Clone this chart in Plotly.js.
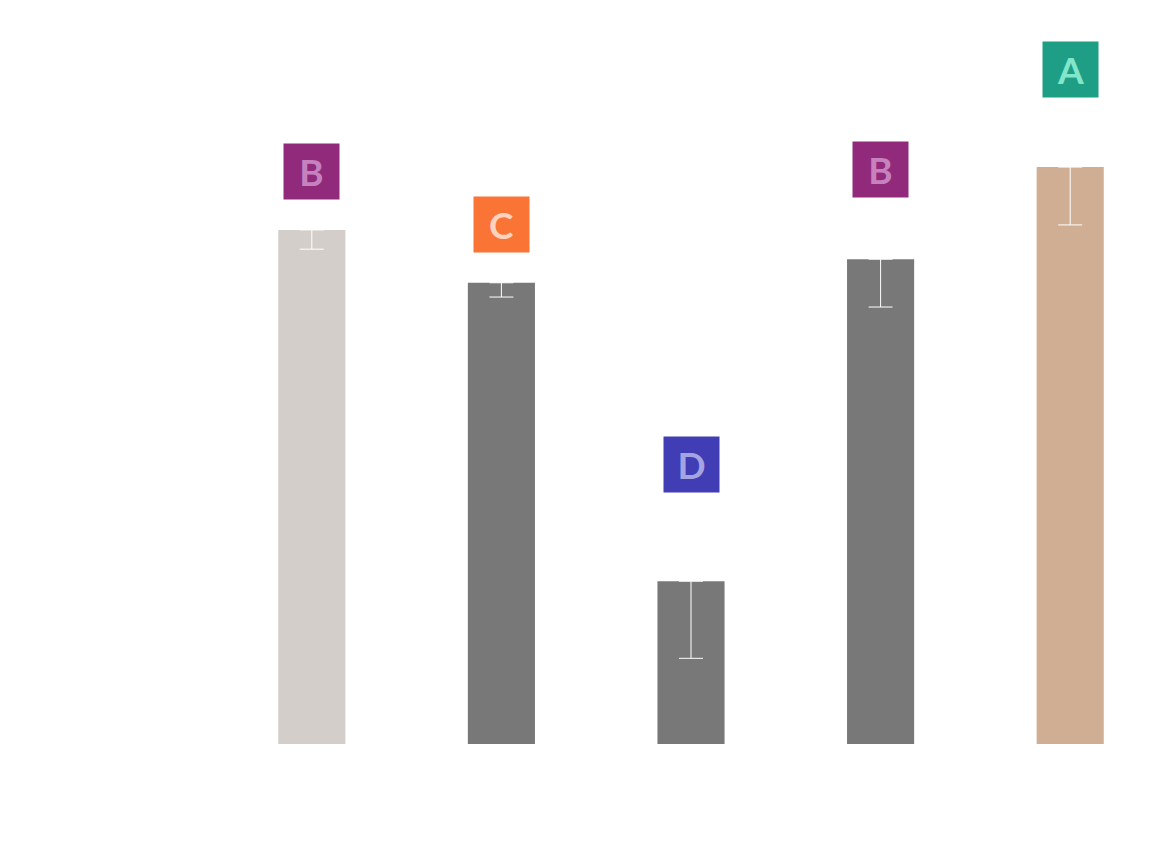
<!DOCTYPE html>
<html>
<head>
<meta charset="utf-8">
<script src="https://cdn.plot.ly/plotly-3.0.1.min.js"></script>
<style>
  html, body { margin: 0; padding: 0; background: #fff; }
  #chart { width: 1175px; height: 842px; }
</style>
</head>
<body>
<div id="chart"></div>
<script>
// data (y range 0..100)
const groups = ['G1', 'G2', 'G3', 'G4', 'G5'];
const means = [72.0, 64.6, 22.8, 67.9, 80.8];
const errMinus = [2.7, 2.0, 10.8, 6.7, 8.1];
const errPlus = [0, 0, 0, 0, 0];
const barColors = ['#d3ceca', '#787878', '#787878', '#787878', '#d0ae94'];

// significance letters
const letters = ['B', 'C', 'D', 'B', 'A'];
const letterY = [80.2, 72.7, 39.1, 80.4, 94.5];
const boxColors = ['#912a7b', '#fa7436', '#403db5', '#912a7b', '#1e9e85'];
const letterColors = ['#c682bf', '#fdd3bf', '#a5a3e2', '#c682bf', '#82e6cb'];

const trace = {
    x: groups,
    y: means,
    type: 'bar',
    width: 0.354,
    marker: { color: barColors, line: { width: 0 } },
    error_y: {
        type: 'data',
        symmetric: false,
        array: errPlus,
        arrayminus: errMinus,
        color: '#ffffff',
        thickness: 1,
        width: 12
    },
    hoverinfo: 'none'
};

const annotations = letters.map((l, i) => ({
    x: groups[i],
    y: letterY[i],
    xref: 'x',
    yref: 'y',
    text: '<b>' + l + '</b>',
    showarrow: false,
    width: 55,
    height: 55,
    bgcolor: boxColors[i],
    borderpad: 0,
    align: 'center',
    valign: 'middle',
    font: { family: 'Lato, "Open Sans", sans-serif', size: 37, color: letterColors[i] }
}));

const layout = {
    width: 1175,
    height: 842,
    margin: { l: 217, r: 10, t: 30, b: 98 },
    paper_bgcolor: '#ffffff',
    plot_bgcolor: '#ffffff',
    showlegend: false,
    xaxis: {
        showticklabels: false,
        showgrid: false,
        zeroline: false,
        showline: false,
        ticks: ''
    },
    yaxis: {
        range: [0, 100],
        showticklabels: false,
        showgrid: false,
        zeroline: false,
        showline: false,
        ticks: ''
    },
    annotations: annotations
};

Plotly.newPlot('chart', [trace], layout, { displayModeBar: false, staticPlot: true });
</script>
</body>
</html>
